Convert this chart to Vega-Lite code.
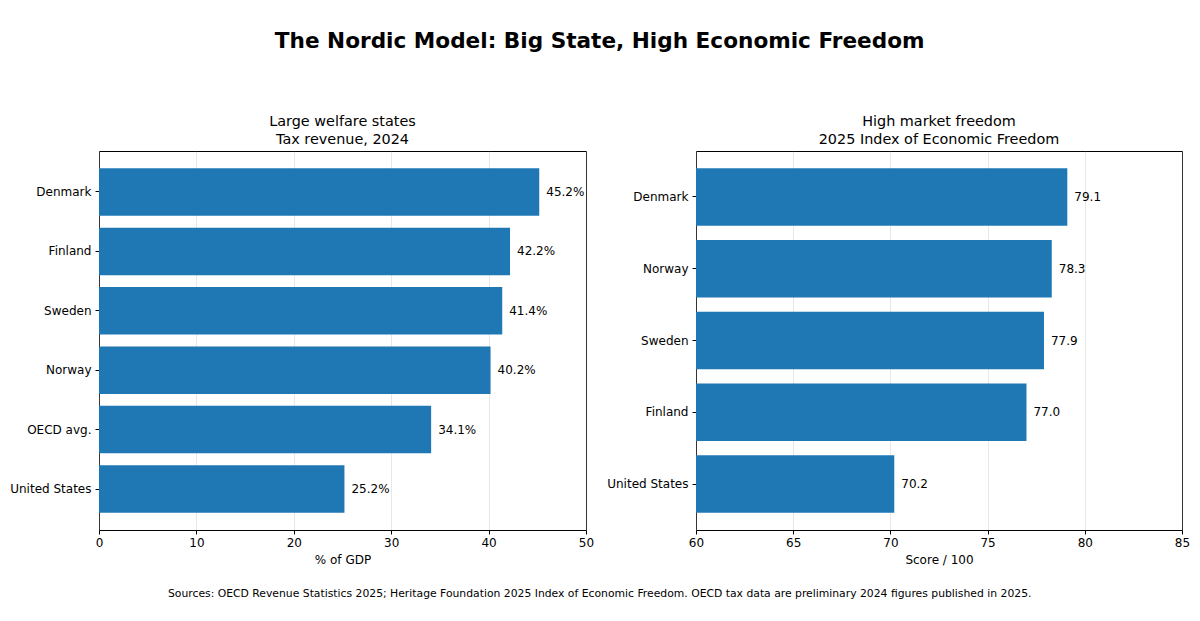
{
  "$schema": "https://vega.github.io/schema/vega-lite/v6.json",
  "background": "white",
  "padding": {"left": 9, "top": 30, "right": 5, "bottom": 10},
  "config": {
    "font": "DejaVu Sans",
    "view": {"stroke": "black", "strokeWidth": 1},
    "axis": {
      "labelFont": "DejaVu Sans",
      "labelFontSize": 12,
      "labelColor": "#000000",
      "titleFont": "DejaVu Sans",
      "titleFontSize": 12,
      "titleFontWeight": "normal",
      "titleColor": "#000000",
      "tickColor": "#000000",
      "tickSize": 4,
      "labelPadding": 3,
      "labelFlush": false,
      "domain": false,
      "zindex": 1
    },
    "title": {"font": "DejaVu Sans", "color": "#000000"}
  },
  "title": {
    "text": "The Nordic Model: Big State, High Economic Freedom",
    "fontSize": 21.6,
    "fontWeight": "bold",
    "anchor": "middle",
    "offset": 61
  },
  "vconcat": [
    {
      "title": {
        "text": "Sources: OECD Revenue Statistics 2025; Heritage Foundation 2025 Index of Economic Freedom. OECD tax data are preliminary 2024 figures published in 2025.",
        "orient": "bottom",
        "fontSize": 10.8,
        "fontWeight": "normal",
        "anchor": "middle",
        "offset": 22
      },
      "spacing": 11,
      "hconcat": [
        {
          "width": 487,
          "height": 379,
          "title": {
            "text": ["Large welfare states", "Tax revenue, 2024"],
            "fontSize": 14.4,
            "fontWeight": "normal",
            "lineHeight": 18,
            "offset": 4
          },
          "data": {
            "values": [
              {"country": "Denmark", "value": 45.2, "label": "45.2%"},
              {"country": "Finland", "value": 42.2, "label": "42.2%"},
              {"country": "Sweden", "value": 41.4, "label": "41.4%"},
              {"country": "Norway", "value": 40.2, "label": "40.2%"},
              {"country": "OECD avg.", "value": 34.1, "label": "34.1%"},
              {"country": "United States", "value": 25.2, "label": "25.2%"}
            ]
          },
          "encoding": {
            "y": {
              "field": "country",
              "type": "nominal",
              "sort": null,
              "title": null,
              "scale": {"paddingInner": 0.2, "paddingOuter": 0.29},
              "axis": {"grid": false, "labelPadding": 4}
            },
            "x": {
              "field": "value",
              "type": "quantitative",
              "title": "% of GDP",
              "scale": {"domain": [0, 50], "nice": false},
              "axis": {
                "values": [0, 10, 20, 30, 40, 50],
                "grid": true,
                "gridColor": "#b0b0b0",
                "gridOpacity": 0.3,
                "titlePadding": 6
              }
            }
          },
          "layer": [
            {"mark": {"type": "bar", "color": "#1f77b4"}},
            {
              "mark": {"type": "text", "align": "left", "baseline": "middle", "dx": 7, "fontSize": 12, "color": "#000000"},
              "encoding": {"text": {"field": "label"}}
            }
          ]
        },
        {
          "width": 486,
          "height": 379,
          "title": {
            "text": ["High market freedom", "2025 Index of Economic Freedom"],
            "fontSize": 14.4,
            "fontWeight": "normal",
            "lineHeight": 18,
            "offset": 4
          },
          "data": {
            "values": [
              {"country": "Denmark", "value": 79.1, "label": "79.1"},
              {"country": "Norway", "value": 78.3, "label": "78.3"},
              {"country": "Sweden", "value": 77.9, "label": "77.9"},
              {"country": "Finland", "value": 77.0, "label": "77.0"},
              {"country": "United States", "value": 70.2, "label": "70.2"}
            ]
          },
          "encoding": {
            "y": {
              "field": "country",
              "type": "nominal",
              "sort": null,
              "title": null,
              "scale": {"paddingInner": 0.2, "paddingOuter": 0.24},
              "axis": {"grid": false, "labelPadding": 4}
            },
            "x": {
              "field": "value",
              "type": "quantitative",
              "title": "Score / 100",
              "scale": {"domain": [60, 85], "nice": false, "zero": false},
              "axis": {
                "values": [60, 65, 70, 75, 80, 85],
                "grid": true,
                "gridColor": "#b0b0b0",
                "gridOpacity": 0.3,
                "titlePadding": 6
              }
            }
          },
          "layer": [
            {
              "mark": {"type": "bar", "color": "#1f77b4"},
              "encoding": {"x2": {"datum": 60}}
            },
            {
              "mark": {"type": "text", "align": "left", "baseline": "middle", "dx": 7, "fontSize": 12, "color": "#000000"},
              "encoding": {"text": {"field": "label"}}
            }
          ]
        }
      ]
    }
  ]
}
